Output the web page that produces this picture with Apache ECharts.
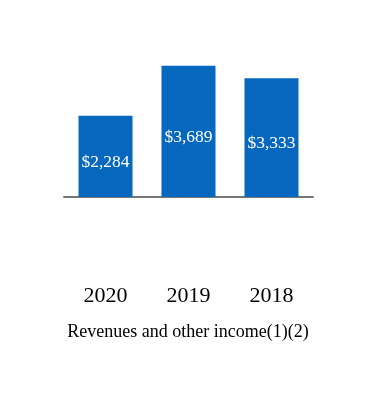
<!DOCTYPE html>
<html>
<head>
<meta charset="utf-8">
<script src="https://cdn.jsdelivr.net/npm/echarts@6.0.0/dist/echarts.min.js"></script>
<style>
  html, body { margin: 0; padding: 0; background: #fff; }
  #mainPlot { width: 376px; height: 400px; }
</style>
</head>
<body>
<div id="mainPlot"></div>
<script>
const years = ["2020", "2019", "2018"];
const revenues = [2284, 3689, 3333];
const chartTitle = "Revenues and other income(1)(2)";

const chartDom = document.getElementById("mainPlot");
const myChart = echarts.init(chartDom);
const serif = "'Liberation Serif', 'Times New Roman', serif";

const option = {
  animation: false,
  title: {
    text: chartTitle,
    left: "center",
    top: 318,
    textStyle: {
      fontFamily: serif,
      fontSize: 18,
      fontWeight: "normal",
      color: "#000",
    },
  },
  grid: { left: 64, right: 63, top: 19, bottom: 203 },
  xAxis: {
    type: "category",
    data: years,
    axisLine: { lineStyle: { color: "#777", width: 2 } },
    axisTick: { show: false },
    axisLabel: {
      margin: 88,
      fontFamily: serif,
      fontSize: 22,
      color: "#000",
    },
  },
  yAxis: {
    type: "value",
    min: 0,
    max: 5000,
    show: false,
    splitLine: { show: false },
  },
  series: [
    {
      type: "bar",
      data: revenues,
      barWidth: 54,
      itemStyle: { color: "#0667BF" },
      label: {
        show: true,
        position: "inside",
        offset: [0, 6],
        fontFamily: serif,
        fontSize: 17.5,
        color: "#fff",
        formatter: (p) => "$" + p.value.toLocaleString("en-US"),
      },
    },
  ],
};
myChart.setOption(option);
</script>
</body>
</html>
